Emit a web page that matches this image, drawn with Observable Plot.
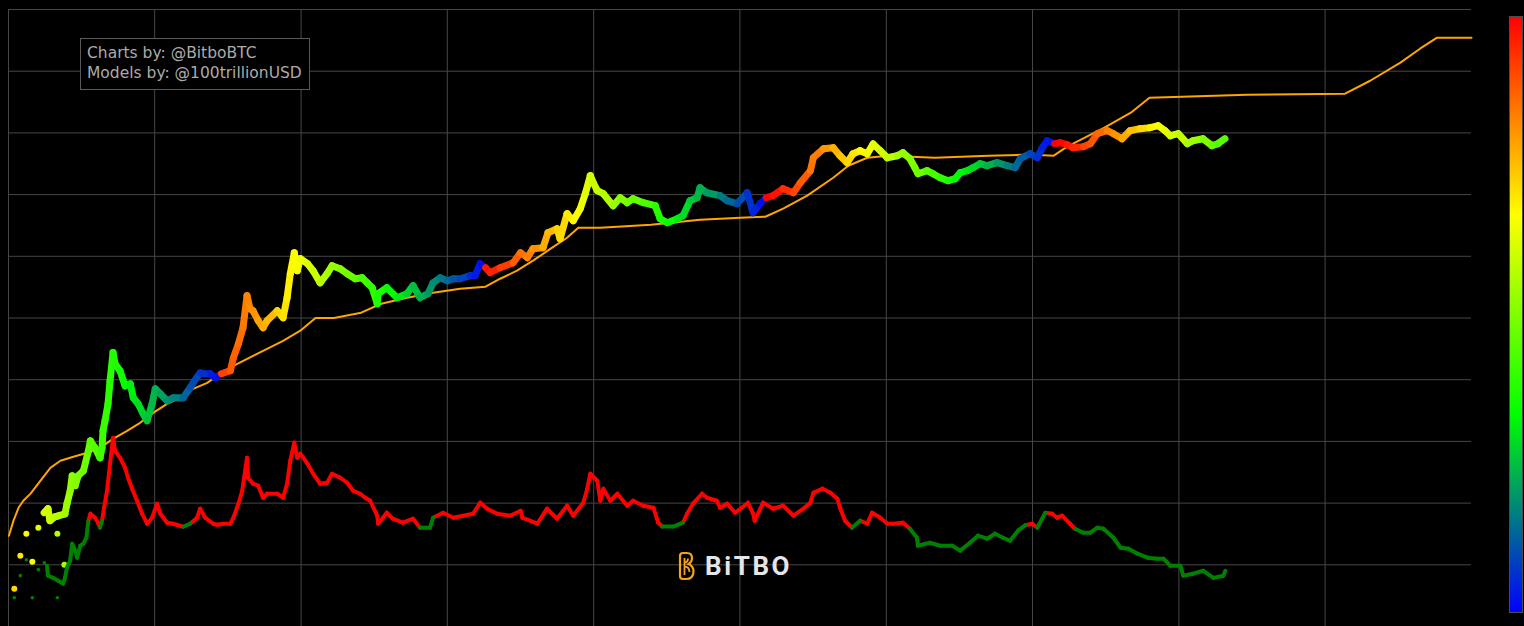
<!DOCTYPE html>
<html>
<head>
<meta charset="utf-8">
<script src="https://cdn.jsdelivr.net/npm/d3@7"></script>
<script src="https://cdn.jsdelivr.net/npm/@observablehq/plot@0.6"></script>
<style>
  html, body { margin: 0; padding: 0; background: #000; overflow: hidden; }
  #wrap { position: relative; width: 1524px; height: 626px; }
  #wrap svg.plot, #wrap > svg { display: block; }
  #credits {
    position: absolute; left: 80px; top: 38px; box-sizing: border-box;
    width: 230px; height: 52px; padding: 5px 0 0 6px;
    border: 1px solid #595959; background: #000;
    color: #ababab; font: 15.5px/19.5px "DejaVu Sans", sans-serif; white-space: nowrap;
  }
  #colorbar {
    position: absolute; left: 1509px; top: 16px; width: 12px; height: 595px;
    border: 1px solid #4d4d4d;
    background: linear-gradient(to top, #0000ff 0%, #00ff00 33.3%, #ffff00 66.7%, #ff0000 100%);
  }
  #brand {
    position: absolute; left: 676px; top: 551px; display: flex; align-items: center; gap: 9px;
    color: #e6e6e6; font: 700 26px Roboto, "DejaVu Sans", sans-serif; letter-spacing: 2.6px;
  }
</style>
</head>
<body>
<div id="wrap"></div>
<script>
// ---------------- data ----------------
const halvingDates = ["2012-11-28", "2016-07-09", "2020-05-11", "2024-04-20", "2028-04-17"];

const gridYears = [2010, 2012, 2014, 2016, 2018, 2020, 2022, 2024, 2026, 2028];
const gridPrices = [1e-2, 1e-1, 1, 10, 100, 1e3, 1e4, 1e5, 1e6, 1e7];

// sparse early price points (large dots)
const earlyDates = ["2010-01-30", "2010-03-01", "2010-03-31", "2010-04-30", "2010-05-30", "2010-09-02", "2010-10-07"];
const earlyPrices = [0.0041, 0.014, 0.032, 0.0112, 0.040, 0.032, 0.010];

// BTC price (USD), coloured by days until the next halving
const priceDates = [
  "2010-06-28","2010-07-17","2010-07-27","2010-08-21","2010-09-06","2010-10-10","2010-10-20","2010-11-05","2010-11-15","2010-11-30",
  "2010-12-15","2011-01-10","2011-02-04","2011-02-14","2011-03-09","2011-04-03","2011-04-13","2011-04-18","2011-04-28","2011-05-13",
  "2011-05-23","2011-06-07","2011-06-17","2011-07-12","2011-08-06","2011-09-01","2011-09-16","2011-10-10","2011-11-04","2011-11-24",
  "2011-12-19","2012-01-04","2012-01-29","2012-03-03","2012-04-02","2012-05-22","2012-06-26","2012-07-11","2012-08-15","2012-08-30",
  "2012-10-04","2012-10-29","2012-11-29","2013-01-13","2013-01-28","2013-02-22","2013-03-17","2013-04-06","2013-04-21","2013-05-06",
  "2013-06-01","2013-06-25","2013-07-15","2013-09-04","2013-10-03","2013-10-23","2013-11-08","2013-11-28","2013-12-13","2013-12-28",
  "2014-02-02","2014-03-02","2014-04-06","2014-05-11","2014-06-05","2014-07-15","2014-08-19","2014-09-28","2014-11-02","2014-11-27",
  "2014-12-22","2015-01-16","2015-01-21","2015-03-05","2015-04-25","2015-06-14","2015-07-14","2015-08-18","2015-09-27","2015-10-22",
  "2015-11-26","2016-01-01","2016-01-31","2016-03-05","2016-04-24","2016-05-19","2016-06-13","2016-07-10","2016-08-02","2016-09-21",
  "2016-11-25","2017-01-01","2017-02-04","2017-03-04","2017-04-23","2017-05-18","2017-07-02","2017-07-17","2017-08-21","2017-09-21",
  "2017-10-26","2017-11-20","2017-12-15","2017-12-30","2018-01-19","2018-02-18","2018-04-08","2018-05-13","2018-06-17","2018-07-17",
  "2018-09-06","2018-11-04","2018-11-29","2019-01-04","2019-02-23","2019-03-23","2019-04-27","2019-06-01","2019-06-16","2019-07-20",
  "2019-09-24","2019-10-29","2019-12-18","2020-02-07","2020-03-07","2020-04-11","2020-05-12","2020-06-15","2020-08-04","2020-09-24",
  "2020-10-29","2020-12-18","2021-01-02","2021-02-22","2021-04-11","2021-05-15","2021-06-19","2021-07-19","2021-08-23","2021-09-28",
  "2021-10-27","2021-12-02","2022-01-06","2022-02-25","2022-03-25","2022-04-29","2022-05-24","2022-06-08","2022-07-23","2022-08-22",
  "2022-09-27","2022-11-06","2022-12-11","2023-01-05","2023-02-10","2023-03-10","2023-04-14","2023-05-19","2023-07-08","2023-08-27",
  "2023-10-06","2023-11-01","2023-12-20","2024-01-25","2024-02-19","2024-03-14","2024-04-21","2024-05-18","2024-06-22","2024-07-21",
  "2024-09-11","2024-10-16","2024-11-20","2025-01-09","2025-02-08","2025-03-23","2025-05-02","2025-06-21","2025-08-10","2025-09-20",
  "2025-10-24","2025-11-19","2025-12-29","2026-02-12","2026-03-12","2026-05-01","2026-06-15","2026-07-15","2026-08-19"
];
const priceValues = [
  0.070,0.081,0.052,0.060,0.062,0.067,0.097,0.158,0.277,0.191,
  0.277,0.334,0.70,1.02,0.787,0.542,0.787,1.485,2.16,4.07,
  9.6,27.6,18.1,13.9,7.96,8.58,5.09,4.07,2.80,2.16,
  4.07,7.12,5.91,4.55,5.09,5.09,7.39,8.9,12.9,12.5,
  12.5,10.7,12.5,14.0,22.6,38.2,69.6,230,141,131,
  90.4,69.6,90.4,131,101,213,523,1144,584,915,
  759,584,372,522,704,630,522,433,449,372,
  310,170,248,310,213,248,334,213,248,372,
  449,401,433,433,485,485,759,653,543,653,
  787,1144,949,1328,1378,2414,2800,1929,4900,3780,
  5906,10340,20250,15590,11570,10340,6608,8907,7390,8580,
  7390,6608,4070,3504,4070,4550,7960,8907,12940,10730,
  9600,7960,7120,10730,5090,7120,8907,9600,12460,10730,
  15590,24400,39600,55400,57600,42700,32900,46000,51400,46000,
  66000,51400,39600,42700,47700,38200,27300,21800,24400,21800,
  18790,16800,18100,22600,24400,27300,31700,29400,32900,29400,
  27300,38200,46000,39600,57600,74700,66900,69400,64400,57600,
  59800,66900,97000,108500,97000,80500,108500,117000,121500,130800,
  108500,90000,97000,66800,74700,80500,62200,66800,80500
];

// Stock-to-Flow model price (USD)
const modelDates = [
  "2010-01-03","2010-01-26","2010-02-20","2010-03-16","2010-04-20","2010-06-09","2010-07-29","2010-09-17","2010-11-21","2011-01-30",
  "2011-04-03","2011-06-07","2011-08-16","2011-10-20","2011-12-24","2012-03-03","2012-05-07","2012-07-11","2012-09-19","2012-11-23",
  "2013-01-28","2013-05-06","2013-07-15","2013-10-03","2013-12-28","2014-03-14","2014-06-14","2014-10-28","2015-02-05","2015-06-14",
  "2015-10-22","2016-03-05","2016-07-10","2016-09-21","2016-12-14","2017-03-04","2017-05-31","2017-08-21","2017-10-16","2018-02-03",
  "2018-10-14","2019-06-16","2020-01-03","2020-05-07","2020-08-04","2020-12-02","2021-04-11","2021-06-25","2021-09-28","2022-01-11",
  "2022-08-31","2023-05-25","2023-12-12","2024-04-16","2024-06-22","2024-12-25","2025-05-06","2025-08-07","2026-12-08","2028-04-10",
  "2028-08-13","2029-01-11","2029-04-19","2029-07-13","2030-01-01"
];
const modelValues = [
  0.0295,0.052,0.084,0.109,0.141,0.230,0.373,0.485,0.564,0.654,
  0.787,1.10,1.485,2.0,2.90,4.07,5.09,7.12,8.9,12.5,
  16.8,24.4,31.7,42.7,62.3,100,100,122,170,213,
  257,298,322,433,584,849,1328,2000,2900,2900,
  3250,3920,4220,4380,5906,9600,18790,29400,39600,42700,
  39600,42700,44500,42700,59800,121400,212500,372000,416000,432000,
  700000,1374000,2316000,3490000,3490000
];

// price / model ratio (drawn on an unlabelled secondary log axis)
const earlyRatioDates = ["2010-01-30","2010-03-01","2010-03-31","2010-04-30","2010-05-30","2010-06-29","2010-09-02"];
const earlyRatioValues = [0.068, 0.155, 0.281, 0.068, 0.194, 0.251, 0.068];
const ratioDates = [
  "2010-07-12","2010-07-17","2010-08-11","2010-09-06","2010-10-01","2010-10-10","2010-10-20","2010-11-05","2010-11-15","2010-11-30",
  "2010-12-10","2010-12-25","2011-01-10","2011-01-25","2011-02-04","2011-02-14","2011-03-09","2011-03-24","2011-04-03","2011-04-13",
  "2011-04-23","2011-05-08","2011-05-23","2011-06-07","2011-06-17","2011-07-12","2011-08-06","2011-08-21","2011-09-10","2011-10-05",
  "2011-10-30","2011-11-24","2011-12-19","2012-01-13","2012-01-29","2012-03-03","2012-04-02","2012-05-22","2012-06-26","2012-07-31",
  "2012-08-15","2012-09-09","2012-10-19","2012-11-08","2012-12-08","2013-01-13","2013-01-28","2013-02-22","2013-03-13","2013-04-06",
  "2013-04-11","2013-05-06","2013-06-01","2013-06-25","2013-07-15","2013-09-04","2013-10-03","2013-10-23","2013-11-08","2013-11-28",
  "2013-12-13","2013-12-28","2014-02-02","2014-03-02","2014-04-06","2014-05-11","2014-06-05","2014-07-15","2014-08-19","2014-09-18",
  "2014-10-23","2014-11-17","2014-12-12","2015-01-16","2015-01-21","2015-03-05","2015-04-04","2015-05-24","2015-07-14","2015-08-18",
  "2015-10-07","2015-10-22","2015-12-11","2016-01-31","2016-03-20","2016-05-09","2016-06-13","2016-07-18","2016-09-06","2016-11-10",
  "2017-01-01","2017-01-10","2017-03-25","2017-05-13","2017-07-02","2017-08-21","2017-09-21","2017-11-10","2017-11-30","2017-12-15",
  "2018-01-19","2018-02-03","2018-02-18","2018-03-25","2018-04-29","2018-06-17","2018-07-17","2018-09-06","2018-10-26","2018-11-19",
  "2018-12-09","2019-02-02","2019-03-23","2019-04-12","2019-05-12","2019-06-26","2019-07-20","2019-09-08","2019-09-24","2019-10-29",
  "2019-12-08","2020-01-11","2020-02-10","2020-03-07","2020-03-15","2020-04-26","2020-06-15","2020-08-04","2020-09-24","2020-11-13",
  "2020-12-18","2021-01-02","2021-02-17","2021-03-28","2021-05-02","2021-05-15","2021-06-09","2021-07-14","2021-08-23","2021-09-28",
  "2021-10-22","2021-12-02","2022-01-06","2022-02-05","2022-03-25","2022-04-29","2022-06-03","2022-06-08","2022-08-07","2022-09-27",
  "2022-11-26","2023-01-05","2023-02-23","2023-04-04","2023-05-19","2023-06-28","2023-08-07","2023-09-11","2023-10-21","2023-11-26",
  "2023-12-31","2024-01-25","2024-03-05","2024-04-08","2024-05-03","2024-05-28","2024-07-06","2024-07-31","2024-09-11","2024-10-16",
  "2024-11-20","2024-12-20","2025-02-08","2025-03-16","2025-04-24","2025-06-08","2025-07-28","2025-09-16","2025-10-16","2025-11-19",
  "2026-01-08","2026-01-23","2026-03-14","2026-05-03","2026-06-22","2026-08-11","2026-08-21"
];
const ratioValues = [
  0.225,0.155,0.143,0.128,0.115,0.143,0.209,0.271,0.511,0.394,
  0.303,0.474,0.511,0.639,1.205,1.565,1.348,1.118,0.928,1.205,
  1.957,3.69,10.1,26.7,16.4,12.6,8.7,6.0,3.98,2.54,
  1.565,1.077,1.348,2.274,1.565,1.118,1.077,0.963,1.077,1.348,
  1.886,1.348,1.077,1.038,1.077,1.077,1.348,2.274,3.69,12.6,
  6.0,4.79,4.45,2.84,3.30,3.30,2.84,4.79,11.3,22.2,
  12.6,14.7,10.1,6.96,4.79,4.97,6.96,6.0,4.97,3.69,
  3.30,2.84,2.54,1.452,1.077,1.624,1.298,1.118,1.298,0.928,
  0.928,1.348,1.624,1.348,1.452,1.565,2.36,1.886,1.565,1.452,
  1.75,1.348,1.077,1.886,1.298,2.11,1.452,2.36,3.98,6.96,
  5.36,2.54,3.98,2.54,3.30,2.11,2.54,2.11,1.957,1.118,
  0.97,0.97,1.118,1.565,2.274,3.30,2.84,2.54,1.957,2.274,
  1.624,1.957,2.36,1.565,1.205,2.36,1.886,2.11,1.452,1.886,
  2.36,3.42,3.98,3.42,2.74,1.957,1.205,0.928,1.205,1.077,
  1.624,1.348,1.077,1.077,1.118,0.894,0.639,0.474,0.530,0.474,
  0.474,0.394,0.530,0.689,0.616,0.742,0.639,0.571,0.830,1.02,
  1.077,0.928,1.624,1.565,1.348,1.452,1.077,0.894,0.770,0.770,
  0.928,0.894,0.639,0.440,0.424,0.352,0.303,0.292,0.292,0.225,
  0.225,0.155,0.167,0.186,0.143,0.155,0.186
];

// ---------------- build ----------------
const parse = d3.utcParse("%Y-%m-%d");
const halvings = halvingDates.map(parse);
const daysToHalving = t => { const h = halvings.find(h => h > t); return (h - t) / 864e5; };
const RATIO_ONE = 0.043; // where ratio = 1 sits on the (hidden) secondary axis

const zip = (ds, vs) => ds.map((d, i) => ({date: parse(d), value: vs[i]}));
const pairs = arr => arr.slice(1).map((b, i) => ({a: arr[i], b}));

const price = zip(priceDates, priceValues);
const early = zip(earlyDates, earlyPrices);
const model = zip(modelDates, modelValues);
const ratio = zip(ratioDates, ratioValues);
const earlyRatio = zip(earlyRatioDates, earlyRatioValues);

const priceSegs = pairs(price);
const ratioSegs = pairs(ratio);
const segOpts = (extra) => ({
  x1: d => d.a.date, y1: d => d.a.value * (extra.scale || 1),
  x2: d => d.b.date, y2: d => d.b.value * (extra.scale || 1),
  strokeLinecap: "round", ...extra.o
});

const chart = Plot.plot({
  width: 1524, height: 626,
  marginLeft: 8, marginRight: 53, marginTop: 9, marginBottom: 0,
  style: {background: "#000", color: "#aaa", overflow: "visible"},
  x: {type: "utc", domain: [parse("2010-01-01"), parse("2030-01-01")], axis: null},
  y: {type: "log", domain: [1e-3, 1e7], axis: null},
  color: {type: "linear", domain: [0, 480, 960, 1440], range: ["#0000ff", "#00ff00", "#ffff00", "#ff0000"], interpolate: "rgb", clamp: true},
  marks: [
    Plot.gridX(gridYears.map(y => new Date(Date.UTC(y, 0, 1))), {stroke: "#474747", strokeOpacity: 1, strokeWidth: 1}),
    Plot.gridY(gridPrices, {stroke: "#474747", strokeOpacity: 1, strokeWidth: 1}),
    Plot.line(model, {x: "date", y: "value", stroke: "#ffa500", strokeWidth: 2}),
    Plot.link(priceSegs, segOpts({o: {stroke: d => daysToHalving(d.a.date), strokeWidth: 7}})),
    Plot.dot(early, {x: "date", y: "value", r: 3, fill: d => daysToHalving(d.date), stroke: null}),
    Plot.link(ratioSegs.filter(d => d.a.value > 1), segOpts({scale: RATIO_ONE, o: {stroke: "#ff0000", strokeWidth: 4}})),
    Plot.link(ratioSegs.filter(d => d.a.value <= 1), segOpts({scale: RATIO_ONE, o: {stroke: "#008000", strokeWidth: 4}})),
    Plot.dot(earlyRatio, {x: "date", y: d => d.value * RATIO_ONE, r: 1.8, fill: "#008000", stroke: null})
  ]
});

const wrap = document.getElementById("wrap");
wrap.appendChild(chart);

const credits = document.createElement("div");
credits.id = "credits";
credits.innerHTML = "Charts by: @BitboBTC<br>Models by: @100trillionUSD";
wrap.appendChild(credits);

const bar = document.createElement("div");
bar.id = "colorbar";
wrap.appendChild(bar);

const brand = document.createElement("div");
brand.id = "brand";
brand.innerHTML = `<svg width="20" height="30" viewBox="0 0 20 30">
  <path d="M4 5 Q4 2 7 2 L11 2 Q16 2 16 7 Q16 11 12.5 13 Q17.5 15 17.5 20.5 Q17.5 28 10 28 L7 28 Q4 28 4 25 Z" fill="none" stroke="#f5a31a" stroke-width="2.2"/>
  <path d="M8.5 7 L8.5 24 M8.5 16 Q13 15 13.5 21 M8.5 12 Q12 11 12 7.5" fill="none" stroke="#f5a31a" stroke-width="1.8"/>
</svg><span>BiTBO</span>`;
wrap.appendChild(brand);
</script>
</body>
</html>
